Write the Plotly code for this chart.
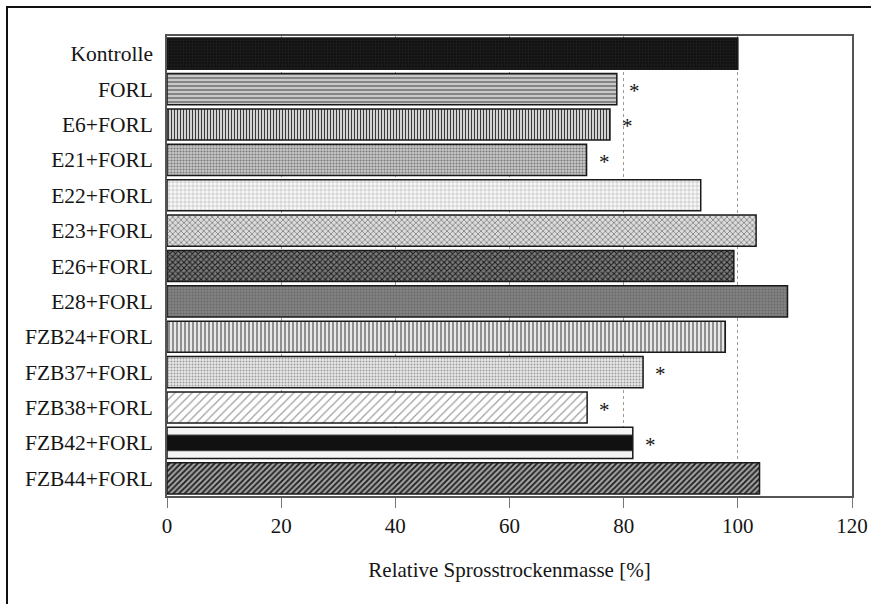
import plotly.graph_objects as go

categories = ["Kontrolle", "FORL", "E6+FORL", "E21+FORL", "E22+FORL", "E23+FORL",
              "E26+FORL", "E28+FORL", "FZB24+FORL", "FZB37+FORL", "FZB38+FORL",
              "FZB42+FORL", "FZB44+FORL"]
values = [100, 78.8, 77.6, 73.5, 93.5, 103.2, 99.3, 108.7, 97.8, 83.4, 73.6, 81.6, 103.8]
significant = [False, True, True, True, False, False, False, False, False, True, True, True, False]
x_ticks = [0, 20, 40, 60, 80, 100, 120]

# fill textures (greyscale, approximating the scanned hatching)
pat_shape = [".", "-", "|", ".", "+", "x", "x", ".", "|", ".", "/", "-", "/"]
pat_fg = ["#202020", "#7c7c7c", "#3a3a3a", "#7a7a7a", "#a0a0a0", "#787878", "#1c1c1c",
          "#686868", "#6a6a6a", "#9c9c9c", "#a0a0a0", "#111111", "#1c1c1c"]
pat_bg = ["#121212", "#c8c8c8", "#d2d2d2", "#c8c8c8", "#f8f8f8", "#dcdcdc", "#7c7c7c",
          "#828282", "#e8e8e8", "#e8e8e8", "#ffffff", "#f4f4f4", "#a2a2a2"]
pat_size = [3, 4, 3, 3, 4, 4, 4, 3, 4, 3, 6, 32.55, 4]
pat_sol = [0.3, 0.45, 0.35, 0.4, 0.2, 0.35, 0.45, 0.3, 0.35, 0.35, 0.2, 0.5, 0.45]

SERIF = "Liberation Serif, Times New Roman, serif"
TXT = "#151515"

fig = go.Figure()
fig.add_trace(go.Bar(
    y=categories, x=values, orientation="h", width=0.88,
    marker=dict(
        color="#141414",
        line=dict(color="#1a1a1a", width=1.5),
        pattern=dict(shape=pat_shape, fgcolor=pat_fg, bgcolor=pat_bg,
                     size=pat_size, solidity=pat_sol, fillmode="replace",
                     fgopacity=1),
    ),
    hoverinfo="x+y",
    showlegend=False,
))

for cat, val, sig in zip(categories, values, significant):
    if sig:
        fig.add_annotation(x=val, y=cat, xref="x", yref="y", text="*",
                           showarrow=False, xanchor="left", yanchor="middle",
                           xshift=10, yshift=-2,
                           font=dict(family=SERIF, size=21, color=TXT))

W, H = 871, 604
ML, MR, MT, MB = 167, 19, 36, 108
pw, ph = W - ML - MR, H - MT - MB
# outer frame of the scanned figure
fig.add_shape(type="rect", xref="paper", yref="paper",
              x0=(7 - ML) / pw, x1=1 + (MR + 20) / pw,
              y0=-(MB + 20) / ph, y1=1 + (MT - 7) / ph,
              line=dict(color="#111", width=2), fillcolor="rgba(0,0,0,0)", layer="above")

fig.update_layout(
    width=W, height=H,
    margin=dict(l=ML, r=MR, t=MT, b=MB),
    paper_bgcolor="white", plot_bgcolor="white",
    font=dict(family=SERIF, size=21, color=TXT),
    bargap=0.12,
    xaxis=dict(
        range=[0, 120], tickvals=x_ticks, ticktext=[str(v) for v in x_ticks],
        automargin=False,
        showgrid=True, gridcolor="#9a9a9a", griddash="dot", gridwidth=1,
        showline=True, linecolor="#555", linewidth=1.5, mirror=True,
        ticks="outside", ticklen=10, tickcolor="#777", tickwidth=1,
        zeroline=False,
        title=dict(text="Relative Sprosstrockenmasse [%]", standoff=25,
                   font=dict(family=SERIF, size=21, color=TXT)),
        tickfont=dict(family=SERIF, size=21, color=TXT),
    ),
    yaxis=dict(
        autorange="reversed", type="category", automargin=False,
        showline=True, linecolor="#555", linewidth=1.5, mirror=True,
        ticks="", showgrid=False,
        tickfont=dict(family=SERIF, size=21.5, color=TXT),
        ticklabelstandoff=8,
    ),
)

fig.write_html("out.html", config={"displayModeBar": False},
               post_script="document.body.style.margin='0';document.body.style.overflow='hidden';")
